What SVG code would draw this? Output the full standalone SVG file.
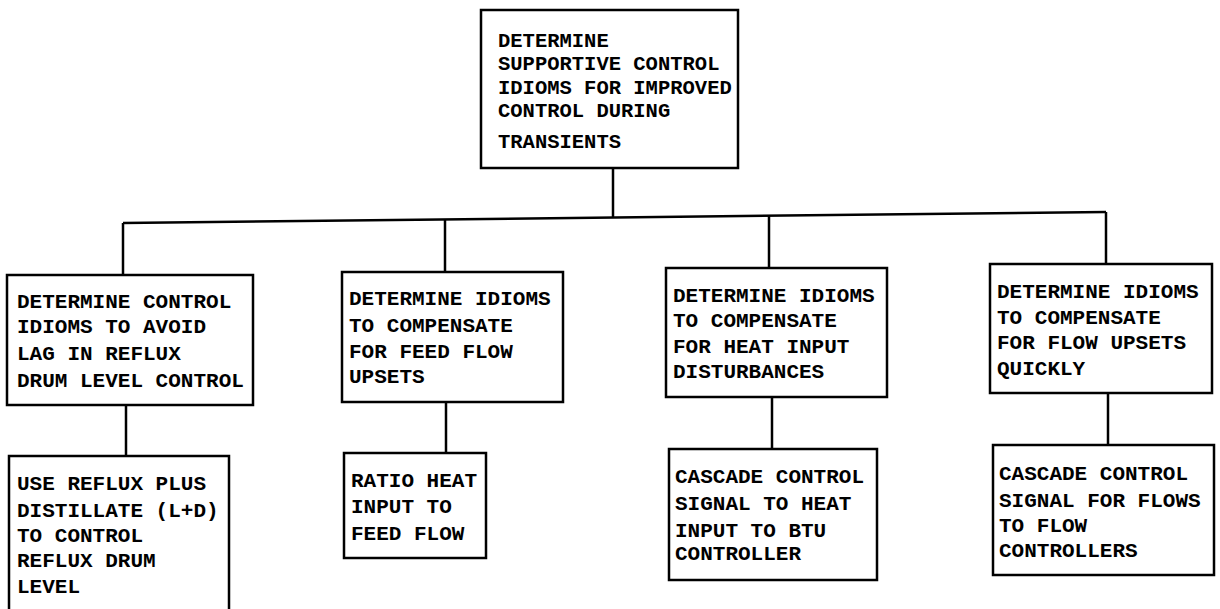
<svg xmlns="http://www.w3.org/2000/svg" width="1220" height="609" viewBox="0 0 1220 609">
<style>
.box{fill:#fff;stroke:#000;stroke-width:2.5}
.t{font-family:"Liberation Mono","DejaVu Sans Mono",monospace;font-weight:bold;font-size:21px;fill:#000}
.c{stroke:#000;stroke-width:2.5;fill:none}
</style>
<rect width="1220" height="609" fill="#fff"/>
<g id="connectors">
<line class="c" x1="613" y1="168" x2="613" y2="218"/>
<line class="c" x1="123" y1="223" x2="1106" y2="212"/>
<line class="c" x1="123" y1="223" x2="123" y2="275"/>
<line class="c" x1="445" y1="219.4" x2="445" y2="272"/>
<line class="c" x1="769" y1="215.8" x2="769" y2="268"/>
<line class="c" x1="1106" y1="212" x2="1106" y2="264"/>
<line class="c" x1="126" y1="405" x2="126" y2="456"/>
<line class="c" x1="446" y1="402" x2="446" y2="453"/>
<line class="c" x1="772" y1="397" x2="772" y2="449"/>
<line class="c" x1="1108" y1="393" x2="1108" y2="445"/>
</g>
<g id="top">
<rect class="box" x="481" y="10" width="257" height="158"/>
<text class="t" style="font-size:20.5px" x="498" y="47">DETERMINE</text>
<text class="t" style="font-size:20.5px" x="498" y="70">SUPPORTIVE CONTROL</text>
<text class="t" style="font-size:20.5px" x="498" y="94">IDIOMS FOR IMPROVED</text>
<text class="t" style="font-size:20.5px" x="498" y="117">CONTROL DURING</text>
<text class="t" style="font-size:20.5px" x="498" y="148">TRANSIENTS</text>
</g>
<g id="mid1">
<rect class="box" x="7" y="275" width="246" height="130"/>
<text class="t" x="17" y="308">DETERMINE CONTROL</text>
<text class="t" x="17" y="333">IDIOMS TO AVOID</text>
<text class="t" x="17" y="360">LAG IN REFLUX</text>
<text class="t" x="17" y="387">DRUM LEVEL CONTROL</text>
</g>
<g id="mid2">
<rect class="box" x="342" y="272" width="221" height="130"/>
<text class="t" x="349" y="305">DETERMINE IDIOMS</text>
<text class="t" x="349" y="332">TO COMPENSATE</text>
<text class="t" x="349" y="358">FOR FEED FLOW</text>
<text class="t" x="349" y="383">UPSETS</text>
</g>
<g id="mid3">
<rect class="box" x="666" y="268" width="221" height="129"/>
<text class="t" x="673" y="302">DETERMINE IDIOMS</text>
<text class="t" x="673" y="327">TO COMPENSATE</text>
<text class="t" x="673" y="353">FOR HEAT INPUT</text>
<text class="t" x="673" y="378">DISTURBANCES</text>
</g>
<g id="mid4">
<rect class="box" x="990" y="264" width="222" height="129"/>
<text class="t" x="997" y="298">DETERMINE IDIOMS</text>
<text class="t" x="997" y="324">TO COMPENSATE</text>
<text class="t" x="997" y="349">FOR FLOW UPSETS</text>
<text class="t" x="997" y="375">QUICKLY</text>
</g>
<g id="bot1">
<rect class="box" x="9" y="456" width="220" height="170"/>
<text class="t" x="17" y="490">USE REFLUX PLUS</text>
<text class="t" x="17" y="517">DISTILLATE (L+D)</text>
<text class="t" x="17" y="542">TO CONTROL</text>
<text class="t" x="17" y="567">REFLUX DRUM</text>
<text class="t" x="17" y="593">LEVEL</text>
</g>
<g id="bot2">
<rect class="box" x="344" y="453" width="142" height="105"/>
<text class="t" x="351" y="487">RATIO HEAT</text>
<text class="t" x="351" y="513">INPUT TO</text>
<text class="t" x="351" y="540">FEED FLOW</text>
</g>
<g id="bot3">
<rect class="box" x="669" y="449" width="208" height="131"/>
<text class="t" x="675" y="483">CASCADE CONTROL</text>
<text class="t" x="675" y="510">SIGNAL TO HEAT</text>
<text class="t" x="675" y="537">INPUT TO BTU</text>
<text class="t" x="675" y="560">CONTROLLER</text>
</g>
<g id="bot4">
<rect class="box" x="993" y="445" width="221" height="130"/>
<text class="t" x="999" y="480">CASCADE CONTROL</text>
<text class="t" x="999" y="507">SIGNAL FOR FLOWS</text>
<text class="t" x="999" y="532">TO FLOW</text>
<text class="t" x="999" y="557">CONTROLLERS</text>
</g>
</svg>
